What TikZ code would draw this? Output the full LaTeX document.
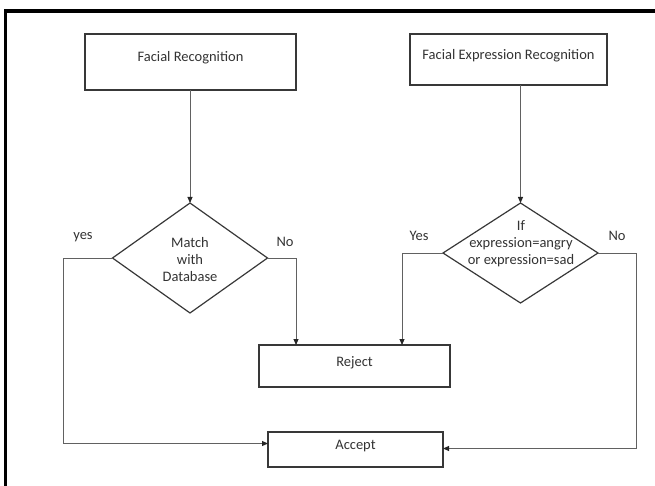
\documentclass[tikz,border=0pt]{standalone}
\usepackage{fontspec}
\setmainfont{Carlito}
\usetikzlibrary{shapes.geometric,arrows.meta}

\definecolor{edge}{gray}{0.22}
\definecolor{wire}{gray}{0.38}
\definecolor{ink}{gray}{0.2}

\tikzset{
  base/.style={font=\fontsize{14.5}{17}\selectfont, text=ink},
  procbox/.style={base, draw=edge, line width=1.4pt, rectangle, inner sep=0pt, outer sep=0pt,
                  text height=10pt, text depth=10pt},
  decide/.style={draw=edge, line width=1.2pt, diamond, inner sep=0pt, outer sep=0pt},
  inside/.style={base, align=center, inner sep=0pt},
  tag/.style={base, inner sep=0pt},
  flow/.style={draw=wire, line width=0.9pt,
               -{Triangle[length=6pt,width=5pt,color=black!85]}}
}

\begin{document}
\begin{tikzpicture}[x=1pt,y=-1pt]
\useasboundingbox (0,0) rectangle (655,486);

% outer frame (left and top edges)
\draw[line width=3.2pt, black] (5.5,486) -- (5.5,11) -- (655,11);

% process boxes
\node[procbox, minimum width=211pt, minimum height=56pt] (fr)  at (190.5,62)   {Facial Recognition};
\node[procbox, minimum width=197pt, minimum height=51pt] (fer) at (508.5,59.5) {Facial Expression Recognition};
\node[procbox, minimum width=191pt, minimum height=42pt] (rej) at (354.5,366)  {Reject};
\node[procbox, minimum width=175pt, minimum height=35pt] (acc) at (355.5,449.5) {Accept};

% decisions
\node[decide, minimum width=155pt, minimum height=110pt] (d1) at (190,258) {};
\node[decide, minimum width=155pt, minimum height=100pt] (d2) at (520.5,253) {};
\node[inside] (d1t) at (190,260) {Match\\with\\Database};
\node[inside] (d2t) at (521,244) {If\\expression=angry\\or expression=sad};

% branch labels
\node[tag] (y1) at (83,237)  {yes};
\node[tag] (n1) at (285,242) {No};
\node[tag] (y2) at (419,236) {Yes};
\node[tag] (n2) at (617,236) {No};

% connectors
\draw[flow] (fr.south -| d1.north) -- (d1.north);
\draw[flow] (fer.south -| d2.north) -- (d2.north);
\draw[flow] (d1.east) -| ([xshift=-58.5pt]rej.north);
\draw[flow] (d2.west) -| ([xshift=47.5pt]rej.north);
\draw[flow] (d1.west) -- ++(-49,0) |- ([yshift=6pt]acc.west);
\draw[flow] (d2.east) -- ++(38,0) |- ([yshift=1pt]acc.east);
\end{tikzpicture}
\end{document}
